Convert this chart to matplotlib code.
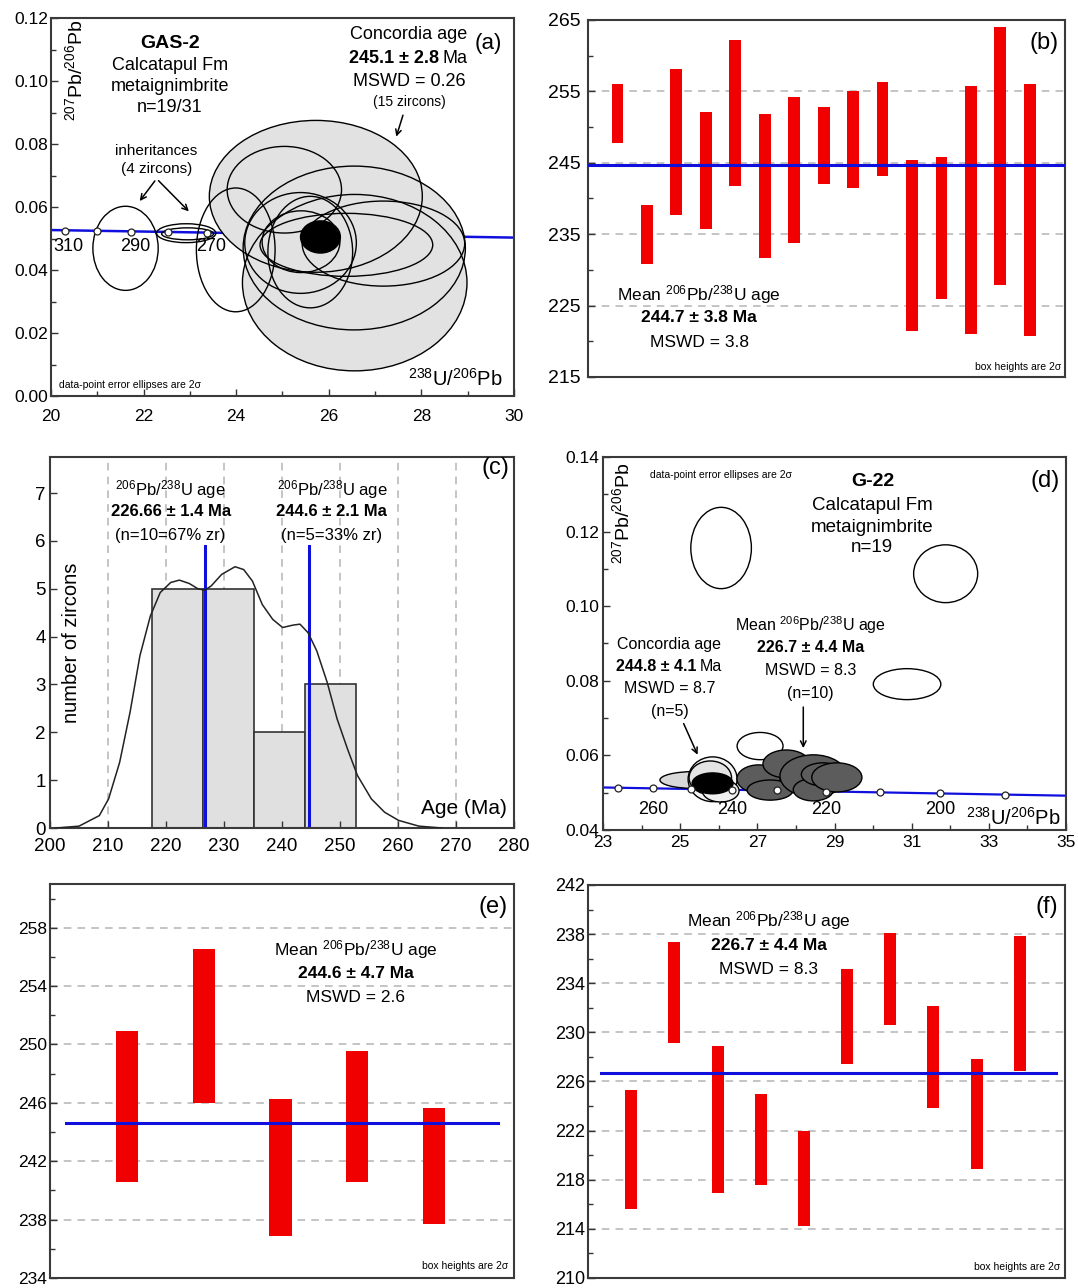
import matplotlib
matplotlib.use('Agg')
import matplotlib.pyplot as plt
from matplotlib.patches import Ellipse
from matplotlib import font_manager

names = {f.name for f in font_manager.fontManager.ttflist}
fam = 'Liberation Sans' if 'Liberation Sans' in names else 'DejaVu Sans'
plt.rcParams['font.family'] = [fam, 'DejaVu Sans']
plt.rcParams['mathtext.fontset'] = 'custom'
plt.rcParams['mathtext.rm'] = fam
plt.rcParams['mathtext.default'] = 'rm'

# ---------------- data ----------------
# (a) GAS-2 concordia diagram
conc_a_x = [20, 30]
conc_a_y = [0.0527, 0.0503]
marks_a_x = [20.30, 20.99, 21.73, 22.53, 23.38]
marks_a_y = [0.0525, 0.0524, 0.0522, 0.0520, 0.0518]
marks_a_lab = ['310', '', '290', '', '270']
# grey ellipses: x, y, width, height
grey_a = [(25.72, 0.0634, 4.60, 0.0482), (25.04, 0.0655, 2.47, 0.0275),
          (26.55, 0.0470, 4.80, 0.0520), (26.56, 0.0360, 4.85, 0.0560),
          (27.18, 0.0484, 3.51, 0.0270), (26.38, 0.0480, 3.73, 0.0200),
          (25.40, 0.0490, 1.68, 0.0196), (25.60, 0.0457, 1.83, 0.0354),
          (25.39, 0.0486, 2.41, 0.0320)]
open_a = [(21.61, 0.0469, 1.41, 0.0267), (22.92, 0.0517, 1.28, 0.0060),
          (22.95, 0.0515, 1.12, 0.0038), (23.99, 0.0464, 1.70, 0.0393)]
black_a = (25.82, 0.0505, 0.86, 0.0102)

# (b) GAS-2 206Pb/238U ages (box bottom, top)
b_bot = [247.8, 230.8, 237.7, 235.7, 241.8, 231.6, 233.8, 242.0, 241.5, 243.2,
         221.4, 225.9, 221.0, 227.9, 220.7]
b_top = [256.1, 239.1, 258.1, 252.1, 262.2, 251.9, 254.2, 252.8, 255.1, 256.3,
         245.4, 245.8, 255.8, 264.0, 256.0]
b_mean = 244.7

# (c) G-22 histogram + probability curve
hist_edges = [217.6, 226.4, 235.2, 244.0, 252.8]
hist_counts = [5, 5, 2, 3]
kde_x = [200.9, 205.0, 208.5, 210.1, 212.0, 213.8, 215.5, 217.3, 219.0, 220.8,
         222.3, 224.0, 225.5, 226.7, 227.8, 229.6, 231.9, 233.4, 234.9, 236.6,
         238.4, 240.1, 241.9, 243.1, 244.5, 246.0, 247.8, 249.5, 251.3, 253.0,
         255.4, 257.7, 260.1, 263.6, 267.7]
kde_y = [0.0, 0.04, 0.26, 0.61, 1.37, 2.42, 3.60, 4.43, 4.92, 5.13,
         5.18, 5.11, 5.00, 4.97, 5.06, 5.30, 5.46, 5.40, 5.16, 4.67,
         4.36, 4.19, 4.24, 4.26, 4.08, 3.70, 3.04, 2.28, 1.65, 1.10,
         0.61, 0.33, 0.16, 0.04, 0.0]
c_ages = [226.66, 244.6]

# (d) G-22 concordia diagram
conc_d_x = [23, 35]
conc_d_y = [0.0514, 0.0492]
marks_d_x = [23.38, 24.30, 25.28, 26.35, 27.52, 28.79, 30.19, 31.73, 33.43]
marks_d_y = [0.0513, 0.0512, 0.0510, 0.0508, 0.0506, 0.0503, 0.0501, 0.0498, 0.0495]
marks_d_lab = ['', '260', '', '240', '', '220', '', '200', '']
open_d = [(26.06, 0.1156, 1.57, 0.0218), (31.88, 0.1087, 1.66, 0.0155),
          (30.88, 0.0791, 1.75, 0.0083), (27.07, 0.0625, 1.19, 0.0073)]
light_d = [(25.35, 0.0534, 1.75, 0.0045), (25.84, 0.0536, 1.27, 0.0120),
           (25.78, 0.0540, 1.10, 0.0090), (26.05, 0.0505, 0.95, 0.0060)]
light_d_col = ['#d9d9d9', '#f4f4f4', '#e4e4e4', '#f0f0f0']
black_d = (25.84, 0.0525, 1.06, 0.0056)
dark_d = [(27.03, 0.0537, 1.12, 0.0075), (27.33, 0.0507, 1.19, 0.0054),
          (27.75, 0.0577, 1.21, 0.0075), (28.45, 0.0545, 1.73, 0.0113),
          (28.45, 0.0508, 1.04, 0.0060), (28.70, 0.0549, 1.12, 0.0062),
          (29.06, 0.0541, 1.30, 0.0078)]

# (e) G-22 older population
e_bot = [240.6, 246.0, 236.9, 240.6, 237.7]
e_top = [250.95, 256.57, 246.27, 249.55, 245.66]
e_mean = 244.6

# (f) G-22 younger population
f_bot = [215.63, 229.15, 216.93, 217.57, 214.19, 227.45, 230.56, 223.88, 218.87, 226.83]
f_top = [225.28, 237.32, 228.88, 224.96, 221.96, 235.18, 238.08, 232.13, 227.85, 237.81]
f_mean = 226.66

RED = '#f00000'
BLUE = '#1010dd'
GRID = '#b4b4b4'
PBPB = r'$^{207}$Pb/$^{206}$Pb'
UPB = r'$^{238}$U/$^{206}$Pb'
MEAN = r'Mean $^{206}$Pb/$^{238}$U age'
AGE = r'$^{206}$Pb/$^{238}$U age'


def style(ax, size=12.5, xpad=3, ypad=3):
    for s in ax.spines.values():
        s.set_color('#3a3a3a')
        s.set_linewidth(1.5)
    ax.tick_params(direction='in', length=5, width=1, labelsize=size,
                   top=False, right=False, color='#333333')
    ax.tick_params(axis='x', pad=xpad)
    ax.tick_params(axis='y', pad=ypad)
    ax.tick_params(which='minor', direction='in', length=3.5, width=1, color='#333333')


def ell(ax, e, fc, ec='black', lw=1.0, z=3):
    ax.add_patch(Ellipse((e[0], e[1]), e[2], e[3], facecolor=fc,
                         edgecolor=ec, lw=lw, zorder=z))


def boxes(ax, bot, top, mean, xlim, ylim, major, minor, grid, width,
          mean_x=None, size=12.5, ypad=3):
    xs = list(range(1, len(bot) + 1))
    for g in grid:
        ax.axhline(g, ls=(0, (5, 4)), color=GRID, lw=1.1, zorder=0)
    ax.bar(xs, [t - b for t, b in zip(top, bot)], bottom=bot, width=width,
           color=RED, zorder=2)
    if mean_x is None:
        ax.axhline(mean, color=BLUE, lw=2.2, zorder=3)
    else:
        ax.plot(mean_x, [mean, mean], color=BLUE, lw=2.2, zorder=3)
    ax.set_xlim(*xlim)
    ax.set_ylim(*ylim)
    ax.set_xticks([])
    ax.set_yticks(major)
    ax.set_yticks(minor, minor=True)
    style(ax, size=size, ypad=ypad)


fig = plt.figure(figsize=(10.78, 12.88), dpi=100)

# ---------------- (a) ----------------
ax = fig.add_axes([0.0473, 0.6925, 0.4295, 0.2935])
ax.plot(conc_a_x, conc_a_y, color=BLUE, lw=1.8, zorder=1)
for e in grey_a:
    ell(ax, e, '#e2e2e2', ec='none', z=2)
for e in grey_a:
    ell(ax, e, 'none', z=3)
ell(ax, black_a, 'black', z=5)
for e in open_a:
    ell(ax, e, 'none', z=4)
ax.plot(marks_a_x, marks_a_y, 'o', ms=5, mfc='white', mec='#222222', mew=0.9, zorder=6)
for x, lab in zip(marks_a_x, marks_a_lab):
    if lab:
        ax.text(x + 0.08, 0.0476, lab, ha='center', va='center', fontsize=13, zorder=7)
ax.set_xlim(20, 30)
ax.set_ylim(0, 0.12)
ax.set_xticks([20, 22, 24, 26, 28, 30])
ax.set_xticks([21, 23, 25, 27, 29], minor=True)
ax.set_yticks([0, 0.02, 0.04, 0.06, 0.08, 0.10, 0.12])
ax.set_yticks([0.01, 0.03, 0.05, 0.07, 0.09, 0.11], minor=True)
ax.set_yticklabels(['0.00', '0.02', '0.04', '0.06', '0.08', '0.10', '0.12'])
style(ax, size=12.5, xpad=9, ypad=2)
ax.text(20.52, 0.1035, PBPB, rotation=90, ha='center', va='center', fontsize=14)
ax.text(22.57, 0.1118, 'GAS-2', ha='center', va='center', fontsize=14, fontweight='bold')
ax.text(22.57, 0.1050, 'Calcatapul Fm', ha='center', va='center', fontsize=13)
ax.text(22.57, 0.0983, 'metaignimbrite', ha='center', va='center', fontsize=13)
ax.text(22.57, 0.0916, 'n=19/31', ha='center', va='center', fontsize=13)
ax.text(27.73, 0.1147, 'Concordia age', ha='center', va='center', fontsize=13)
ax.text(28.38, 0.1073, '245.1 ± 2.8', ha='right', va='center', fontsize=13, fontweight='bold')
ax.text(28.46, 0.1073, 'Ma', ha='left', va='center', fontsize=13)
ax.text(27.73, 0.0999, 'MSWD = 0.26', ha='center', va='center', fontsize=13)
ax.text(27.73, 0.0932, '(15 zircons)', ha='center', va='center', fontsize=10)
ax.annotate('', xy=(27.44, 0.0815), xytext=(27.62, 0.0900),
            arrowprops=dict(arrowstyle='->', color='black', lw=1.1), zorder=8)
ax.text(29.45, 0.1120, '(a)', ha='center', va='center', fontsize=16)
ax.text(22.28, 0.0778, 'inheritances', ha='center', va='center', fontsize=11)
ax.text(22.28, 0.0720, '(4 zircons)', ha='center', va='center', fontsize=11)
for tx, ty in [(21.88, 0.0612), (23.02, 0.0580)]:
    ax.annotate('', xy=(tx, ty), xytext=(22.28, 0.0690),
                arrowprops=dict(arrowstyle='->', color='black', lw=1.1))
ax.text(20.18, 0.0035, 'data-point error ellipses are 2σ', ha='left', va='center', fontsize=7.5)
ax.text(29.75, 0.0055, UPB, ha='right', va='center', fontsize=14.5)

# ---------------- (b) ----------------
ax = fig.add_axes([0.5455, 0.7073, 0.4425, 0.2772])
boxes(ax, b_bot, b_top, b_mean, (0.0, 16.2), (215, 265),
      [215, 225, 235, 245, 255, 265], [220, 230, 240, 250, 260],
      [225, 235, 245, 255], 0.4, size=14, ypad=5)
ax.text(3.77, 226.6, MEAN, ha='center', va='center', fontsize=12.5)
ax.text(3.77, 223.3, '244.7 ± 3.8 Ma', ha='center', va='center', fontsize=12.5, fontweight='bold')
ax.text(3.77, 219.9, 'MSWD = 3.8', ha='center', va='center', fontsize=12.5)
ax.text(15.5, 261.8, '(b)', ha='center', va='center', fontsize=17)
ax.text(16.08, 216.4, 'box heights are 2σ', ha='right', va='center', fontsize=7.5)

# ---------------- (c) ----------------
ax = fig.add_axes([0.0464, 0.3571, 0.4304, 0.2880])
for g in [210, 220, 230, 240, 250, 260, 270]:
    ax.axvline(g, ls=(0, (5, 4)), color=GRID, lw=1.1, zorder=0)
widths = [hist_edges[i + 1] - hist_edges[i] for i in range(len(hist_counts))]
ax.bar(hist_edges[:-1], hist_counts, width=widths, align='edge',
       color='#e0e0e0', edgecolor='#333333', lw=1.2, zorder=1)
ax.plot(kde_x, kde_y, color='#222222', lw=1.1, zorder=3)
for a in c_ages:
    ax.plot([a, a], [0, 5.9], color=BLUE, lw=2.2, zorder=2)
ax.set_xlim(200, 280)
ax.set_ylim(0, 7.75)
ax.set_xticks(range(200, 281, 10))
ax.set_yticks(range(0, 8))
style(ax, size=13.5, xpad=7, ypad=3)
ax.text(220.8, 7.07, AGE, ha='center', va='center', fontsize=12)
ax.text(220.8, 6.62, '226.66 ± 1.4 Ma', ha='center', va='center', fontsize=12, fontweight='bold')
ax.text(220.8, 6.11, '(n=10=67% zr)', ha='center', va='center', fontsize=12)
ax.text(248.6, 7.07, AGE, ha='center', va='center', fontsize=12)
ax.text(248.6, 6.62, '244.6 ± 2.1 Ma', ha='center', va='center', fontsize=12, fontweight='bold')
ax.text(248.6, 6.11, '(n=5=33% zr)', ha='center', va='center', fontsize=12)
ax.text(276.8, 7.52, '(c)', ha='center', va='center', fontsize=17)
ax.text(278.8, 0.40, 'Age (Ma)', ha='right', va='center', fontsize=15)
ax.text(203.7, 3.87, 'number of zircons', rotation=90, ha='center', va='center', fontsize=14.5)

# ---------------- (d) ----------------
ax = fig.add_axes([0.5594, 0.3556, 0.4295, 0.2896])
ax.plot(conc_d_x, conc_d_y, color=BLUE, lw=1.6, zorder=1)
for e in open_d:
    ell(ax, e, 'white', z=2)
for e, c in zip(light_d, light_d_col):
    ell(ax, e, c, z=3)
ell(ax, black_d, 'black', z=4)
for e in dark_d:
    ell(ax, e, '#5c5c5c', z=4)
ax.plot(marks_d_x, marks_d_y, 'o', ms=5, mfc='white', mec='#222222', mew=0.9, zorder=6)
for x, lab in zip(marks_d_x, marks_d_lab):
    if lab:
        ax.text(x, 0.0455, lab, ha='center', va='center', fontsize=13, zorder=7)
ax.set_xlim(23, 35)
ax.set_ylim(0.04, 0.14)
ax.set_xticks([23, 25, 27, 29, 31, 33, 35])
ax.set_xticks([24, 26, 28, 30, 32, 34], minor=True)
ax.set_yticks([0.04, 0.06, 0.08, 0.10, 0.12, 0.14])
ax.set_yticks([0.05, 0.07, 0.09, 0.11, 0.13], minor=True)
ax.set_yticklabels(['0.04', '0.06', '0.08', '0.10', '0.12', '0.14'])
style(ax, size=12.5, xpad=3.5, ypad=3)
ax.text(23.5, 0.1248, PBPB, rotation=90, ha='center', va='center', fontsize=14)
ax.text(26.05, 0.1353, 'data-point error ellipses are 2σ', ha='center', va='center', fontsize=7.5)
ax.text(29.98, 0.1335, 'G-22', ha='center', va='center', fontsize=14, fontweight='bold')
ax.text(29.98, 0.1271, 'Calcatapul Fm', ha='center', va='center', fontsize=13.5)
ax.text(29.98, 0.1212, 'metaignimbrite', ha='center', va='center', fontsize=13.5)
ax.text(29.98, 0.1156, 'n=19', ha='center', va='center', fontsize=13.5)
ax.text(34.46, 0.1335, '(d)', ha='center', va='center', fontsize=17)
ax.text(24.72, 0.0897, 'Concordia age', ha='center', va='center', fontsize=11.5)
ax.text(25.42, 0.0839, '244.8 ± 4.1', ha='right', va='center', fontsize=11.5, fontweight='bold')
ax.text(25.50, 0.0839, 'Ma', ha='left', va='center', fontsize=11.5)
ax.text(24.72, 0.0779, 'MSWD = 8.7', ha='center', va='center', fontsize=11.5)
ax.text(24.72, 0.0718, '(n=5)', ha='center', va='center', fontsize=11.5)
ax.annotate('', xy=(25.48, 0.0595), xytext=(25.06, 0.0692),
            arrowprops=dict(arrowstyle='->', color='black', lw=1.1))
ax.text(28.37, 0.0950, MEAN, ha='center', va='center', fontsize=11.5)
ax.text(28.37, 0.0888, '226.7 ± 4.4 Ma', ha='center', va='center', fontsize=11.5, fontweight='bold')
ax.text(28.37, 0.0827, 'MSWD = 8.3', ha='center', va='center', fontsize=11.5)
ax.text(28.37, 0.0767, '(n=10)', ha='center', va='center', fontsize=11.5)
ax.annotate('', xy=(28.19, 0.0612), xytext=(28.19, 0.0737),
            arrowprops=dict(arrowstyle='->', color='black', lw=1.1))
ax.text(34.85, 0.0432, UPB, ha='right', va='center', fontsize=14.5)

# ---------------- (e) ----------------
ax = fig.add_axes([0.0464, 0.0078, 0.4304, 0.3059])
boxes(ax, e_bot, e_top, e_mean, (0, 6.04), (234, 261),
      [234, 238, 242, 246, 250, 254, 258], [236, 240, 244, 248, 252, 256, 260],
      [238, 242, 246, 250, 254, 258], 0.29, mean_x=[0.21, 5.83], size=12.5, ypad=2)
ax.text(3.98, 256.5, MEAN, ha='center', va='center', fontsize=12.5)
ax.text(3.98, 254.85, '244.6 ± 4.7 Ma', ha='center', va='center', fontsize=12.5, fontweight='bold')
ax.text(3.98, 253.2, 'MSWD = 2.6', ha='center', va='center', fontsize=12.5)
ax.text(5.77, 259.4, '(e)', ha='center', va='center', fontsize=17)
ax.text(5.97, 234.8, 'box heights are 2σ', ha='right', va='center', fontsize=7.5)

# ---------------- (f) ----------------
ax = fig.add_axes([0.5455, 0.0078, 0.4425, 0.3051])
boxes(ax, f_bot, f_top, f_mean, (0, 11.05), (210, 242),
      [210, 214, 218, 222, 226, 230, 234, 238, 242], [212, 216, 220, 224, 228, 232, 236, 240],
      [214, 218, 222, 226, 230, 234, 238], 0.28, mean_x=[0.29, 10.83], size=13, ypad=2)
ax.text(4.18, 239.1, MEAN, ha='center', va='center', fontsize=12.5)
ax.text(4.18, 237.05, '226.7 ± 4.4 Ma', ha='center', va='center', fontsize=12.5, fontweight='bold')
ax.text(4.18, 235.15, 'MSWD = 8.3', ha='center', va='center', fontsize=12.5)
ax.text(10.63, 240.2, '(f)', ha='center', va='center', fontsize=17)
ax.text(10.93, 210.9, 'box heights are 2σ', ha='right', va='center', fontsize=7.5)

fig.savefig('out.png', dpi=100, facecolor='white')
